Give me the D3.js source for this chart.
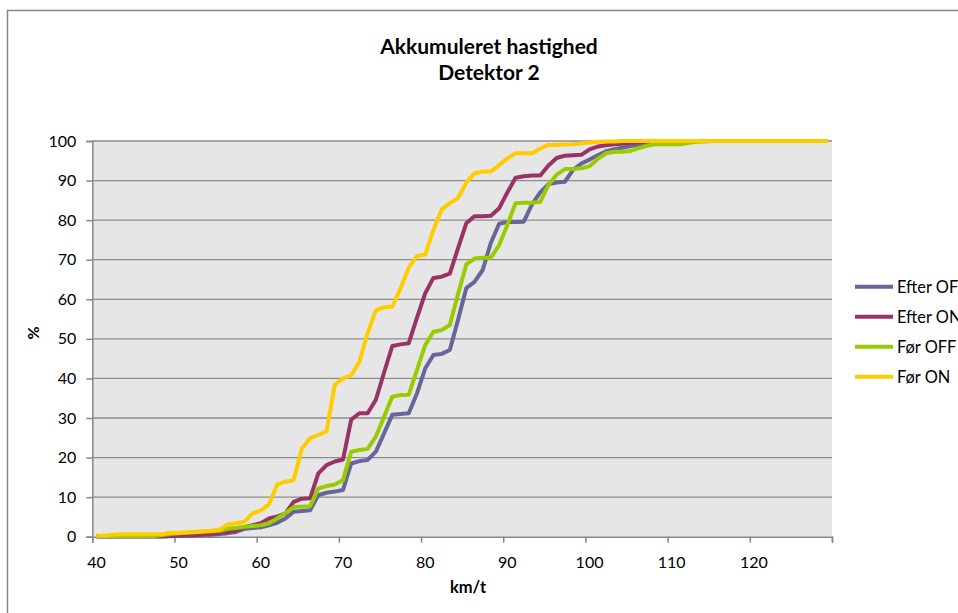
<!DOCTYPE html>
<html>
<head>
<meta charset="utf-8">
<script src="https://cdn.jsdelivr.net/npm/d3@7"></script>
<style>
	body { margin: 0; background: #fff; }
	text { font-family: Lato, "Open Sans", sans-serif; fill: #000; }
</style>
</head>
<body>
<svg id="chartSVG" width="958" height="613"></svg>
<script>
// speed categories 40..129 km/t
var categories = d3.range(40, 130);
var tickLabels = [40, 50, 60, 70, 80, 90, 100, 110, 120];
var seriesNames = ['Efter OFF', 'Efter ON', 'Før OFF', 'Før ON'];

// cumulative share (%) per category
var efterOff = [0.05, 0.05, 0.05, 0.05, 0.05, 0.05, 0.05, 0.05, 0.05, 0.1,
	0.2, 0.3, 0.3, 0.4, 0.5, 0.7, 0.9, 1.2, 2.0, 2.2,
	2.4, 2.9, 3.5, 4.6, 6.3, 6.5, 6.7, 10.5, 11.1, 11.4,
	11.8, 18.5, 19.1, 19.4, 21.5, 26.1, 30.8, 31.0, 31.2, 36.2,
	42.5, 45.9, 46.2, 47.2, 54.8, 62.8, 64.4, 67.4, 74.3, 79.1,
	79.5, 79.5, 79.6, 84.0, 87.0, 89.1, 89.5, 89.7, 92.7, 94.3,
	95.3, 96.4, 97.4, 97.9, 98.3, 98.7, 99.1, 99.5, 99.7, 99.8,
	99.9, 100, 100, 100, 100, 100, 100, 100, 100, 100,
	100, 100, 100, 100, 100, 100, 100, 100, 100, 100];
var efterOn = [0.1, 0.1, 0.1, 0.1, 0.1, 0.1, 0.1, 0.1, 0.1, 0.2,
	0.3, 0.3, 0.4, 0.6, 0.7, 0.9, 1.2, 1.5, 2.4, 2.9,
	3.4, 4.6, 5.1, 5.9, 8.8, 9.6, 9.7, 16.0, 18.1, 19.0,
	19.5, 29.6, 31.2, 31.2, 34.6, 41.5, 48.2, 48.6, 48.9, 55.3,
	61.5, 65.4, 65.7, 66.5, 72.9, 79.2, 81.0, 81.0, 81.1, 83.0,
	87.0, 90.7, 91.1, 91.3, 91.3, 93.8, 95.7, 96.3, 96.4, 96.5,
	97.9, 98.6, 98.9, 99.2, 99.3, 99.5, 99.7, 99.9, 100, 100,
	100, 100, 100, 100, 100, 100, 100, 100, 100, 100,
	100, 100, 100, 100, 100, 100, 100, 100, 100, 100];
var forOff = [0.1, 0.2, 0.2, 0.2, 0.2, 0.2, 0.2, 0.2, 0.4, 0.7,
	0.9, 1.0, 1.2, 1.3, 1.4, 1.5, 2.0, 2.2, 2.5, 2.7,
	2.9, 3.4, 4.6, 6.0, 7.5, 7.6, 7.7, 12.2, 12.8, 13.2,
	14.3, 21.5, 21.9, 22.2, 25.3, 30.3, 35.4, 35.8, 35.9, 42.1,
	48.4, 51.8, 52.2, 53.5, 61.3, 68.8, 70.3, 70.5, 70.5, 73.7,
	78.8, 84.3, 84.4, 84.4, 84.6, 88.9, 91.5, 92.9, 92.9, 93.1,
	93.6, 95.5, 96.9, 97.3, 97.3, 97.5, 98.2, 98.8, 99.2, 99.2,
	99.2, 99.2, 99.5, 99.8, 99.9, 100, 100, 100, 100, 100,
	100, 100, 100, 100, 100, 100, 100, 100, 100, 100];
var forOn = [0.25, 0.3, 0.5, 0.6, 0.6, 0.6, 0.6, 0.6, 0.6, 1.0,
	1.0, 1.1, 1.1, 1.3, 1.5, 1.8, 3.1, 3.4, 3.8, 5.9,
	6.6, 8.2, 13.2, 13.9, 14.3, 22.3, 24.9, 25.7, 26.6, 38.4,
	40.0, 40.8, 44.2, 51.5, 57.2, 58.0, 58.1, 62.8, 68.0, 70.9,
	71.3, 77.5, 82.7, 84.3, 85.6, 89.5, 91.8, 92.3, 92.3, 93.9,
	95.6, 96.9, 96.9, 96.9, 98.1, 99.0, 99.0, 99.1, 99.2, 99.4,
	99.6, 99.8, 99.9, 99.9, 100, 100, 100, 100, 100, 100,
	100, 100, 100, 100, 100, 100, 100, 100, 100, 100,
	100, 100, 100, 100, 100, 100, 100, 100, 100, 100];

var seriesValues = [efterOff, efterOn, forOff, forOn];
var seriesColors = ['#666699', '#993366', '#99CC00', '#FFCC00'];

var plot = { left: 92.3, right: 832, top: 141, bottom: 536.7 };

var svg = d3.select('#chartSVG');

// outer chart frame
svg.append('rect')
	.attr('x', 7.5)
	.attr('y', 10.5)
	.attr('width', 1000)
	.attr('height', 700)
	.attr('fill', '#fff')
	.attr('stroke', '#878787')
	.attr('stroke-width', 1.5);

var x = d3.scaleBand()
	.domain(categories)
	.range([plot.left, plot.right])
	.padding(0);
var xEdge = d3.scaleLinear()
	.domain([40, 130])
	.range([plot.left, plot.right]);
var y = d3.scaleLinear()
	.domain([0, 100])
	.range([plot.bottom, plot.top]);

svg.append('rect')
	.attr('x', plot.left)
	.attr('y', plot.top)
	.attr('width', plot.right - plot.left)
	.attr('height', plot.bottom - plot.top)
	.attr('fill', '#E6E6E6');

// gridlines
svg.append('g')
	.selectAll('line')
	.data(d3.range(10, 101, 10))
	.join('line')
	.attr('x1', plot.left)
	.attr('x2', plot.right)
	.attr('y1', function(d) { return y(d); })
	.attr('y2', function(d) { return y(d); })
	.attr('stroke', '#8C8C8C')
	.attr('stroke-width', 1.3);

// y axis
var yAxis = svg.append('g')
	.attr('transform', 'translate(' + plot.left + ',0)')
	.call(d3.axisLeft(y).tickValues(d3.range(0, 101, 10)).tickSize(6).tickPadding(10));
yAxis.selectAll('text').attr('font-size', '16px').attr('font-family', 'Lato');

// x axis: tick marks on the category edges
var xTicks = svg.append('g')
	.attr('transform', 'translate(0,' + plot.bottom + ')')
	.call(d3.axisBottom(xEdge).tickValues(d3.range(40, 131, 10)).tickSize(6).tickFormat(''));
// x labels centred on their category
var xLabels = svg.append('g')
	.attr('transform', 'translate(0,' + plot.bottom + ')')
	.call(d3.axisBottom(x).tickValues(tickLabels).tickSize(0).tickPadding(20));
xLabels.select('.domain').remove();
xLabels.selectAll('text').attr('font-size', '16px').attr('font-family', 'Lato');

svg.selectAll('.domain, .tick line')
	.attr('stroke', '#868686')
	.attr('stroke-width', 1.5);

// series lines
var line = d3.line()
	.x(function(d, i) { return x(categories[i]) + x.bandwidth() / 2; })
	.y(function(d) { return y(d); });

svg.append('g')
	.selectAll('path')
	.data(seriesValues)
	.join('path')
	.attr('d', line)
	.attr('fill', 'none')
	.attr('stroke', function(d, i) { return seriesColors[i]; })
	.attr('stroke-width', 4)
	.attr('stroke-linejoin', 'round');

// titles
svg.append('text')
	.attr('x', 489)
	.attr('y', 54)
	.attr('text-anchor', 'middle')
	.attr('font-size', '21px')
	.attr('font-weight', 'bold')
	.text('Akkumuleret hastighed');
svg.append('text')
	.attr('x', 489)
	.attr('y', 80)
	.attr('text-anchor', 'middle')
	.attr('font-size', '21px')
	.attr('font-weight', 'bold')
	.text('Detektor 2');
svg.append('text')
	.attr('x', 468)
	.attr('y', 593)
	.attr('text-anchor', 'middle')
	.attr('font-size', '16.5px')
	.attr('font-weight', 'bold')
	.text('km/t');
svg.append('text')
	.attr('transform', 'translate(39,333) rotate(-90)')
	.attr('text-anchor', 'middle')
	.attr('font-size', '16px')
	.attr('font-weight', 'bold')
	.text('%');

// legend
var legend = svg.append('g')
	.selectAll('g')
	.data(seriesNames)
	.join('g')
	.attr('transform', function(d, i) { return 'translate(855,' + (286.7 + i * 30) + ')'; });
legend.append('line')
	.attr('x1', 0)
	.attr('x2', 38)
	.attr('stroke', function(d, i) { return seriesColors[i]; })
	.attr('stroke-width', 4);
legend.append('text')
	.attr('x', 42)
	.attr('y', 6)
	.attr('font-size', '16.4px')
	.text(function(d) { return d; });
</script>
</body>
</html>
